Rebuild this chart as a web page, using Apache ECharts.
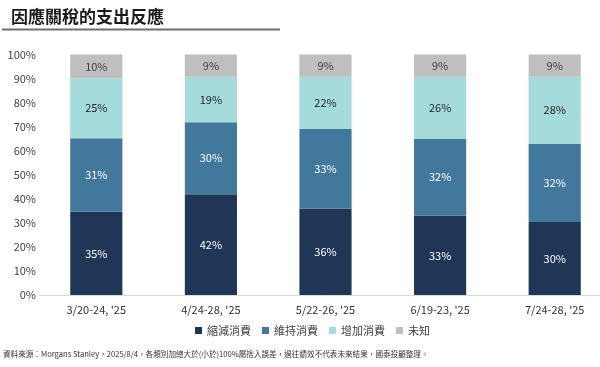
<!DOCTYPE html>
<html>
<head>
<meta charset="utf-8">
<script src="https://cdn.jsdelivr.net/npm/echarts@6/dist/echarts.min.js"></script>
<style>html,body{margin:0;padding:0;background:#fff;overflow:hidden;}#c{width:612px;height:367px;}</style>
</head>
<body>
<div id="c"></div>
<script>
const categories = ["3/20-24, '25", "4/24-28, '25", "5/22-26, '25", "6/19-23, '25", "7/24-28, '25"];
const seriesNames = ["縮減消費", "維持消費", "增加消費", "未知"];
const reduce = [34.6, 41.9, 36.0, 33.0, 30.4];
const maintain = [30.6, 29.9, 33.0, 31.9, 32.4];
const increase = [24.9, 19.0, 21.8, 25.9, 28.0];
const unknown = [9.9, 9.2, 9.2, 9.2, 9.2];
const yTicks = [0, 10, 20, 30, 40, 50, 60, 70, 80, 90, 100];

const colors = ['#1f3657', '#41789c', '#a6dbdc', '#bfbfbf'];
const labelColors = ['#ffffff', '#ffffff', '#222222', '#404040'];
const font = '"Noto Sans CJK TC", "Noto Sans", sans-serif';
const values = [reduce, maintain, increase, unknown];

const chart = echarts.init(document.getElementById('c'), null, {renderer: 'canvas'});
chart.setOption({
  animation: false,
  textStyle: {fontFamily: font},
  title: [{
    text: '因應關稅的支出反應',
    left: 6, top: 3,
    textStyle: {fontSize: 17, fontWeight: 'bold', color: '#1a1a1a', fontFamily: font}
  }],
  graphic: [
    {type: 'line', shape: {x1: 2, y1: 29.5, x2: 280, y2: 29.5}, style: {stroke: '#6e6e6e', lineWidth: 2}},
    {type: 'text', left: 3, top: 350, style: {text: '資料來源：Morgans Stanley，2025/8/4，各類別加總大於(小於)100%屬捨入誤差，過往績效不代表未來結果，國泰投顧整理。', fontSize: 7.6, fill: '#333', fontFamily: font}}
  ],
  legend: {
    data: seriesNames,
    left: 190, top: 320,
    icon: 'rect', itemWidth: 7, itemHeight: 7, itemGap: 11,
    textStyle: {fontSize: 11, color: '#404040', fontFamily: font}
  },
  grid: {left: 39, right: 0, top: 54.5, bottom: 72, containLabel: false},
  xAxis: {
    type: 'category', data: categories,
    axisLine: {lineStyle: {color: '#d9d9d9', width: 1}},
    axisTick: {show: false},
    axisLabel: {fontSize: 11, color: '#333', margin: 9, fontFamily: font}
  },
  yAxis: {
    type: 'value', min: 0, max: 100, interval: 10,
    axisLine: {show: false}, axisTick: {show: false}, splitLine: {show: false},
    axisLabel: {fontSize: 11, color: '#404040', margin: 3, fontFamily: font,
      formatter: v => yTicks.includes(v) ? v + '%' : ''}
  },
  series: seriesNames.map((n, i) => ({
    name: n, type: 'bar', stack: 'total', barWidth: '45.5%',
    data: values[i],
    itemStyle: {color: colors[i]},
    label: {show: true, position: 'inside', fontSize: 11, color: labelColors[i], fontFamily: font,
      formatter: p => Math.round(p.value) + '%'}
  }))
});
</script>
</body>
</html>
